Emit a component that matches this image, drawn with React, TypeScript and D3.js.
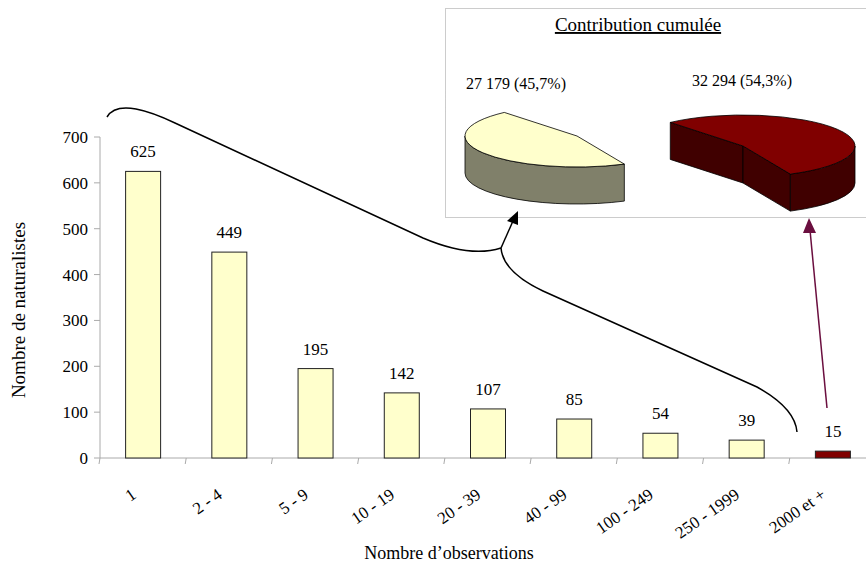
import React from "react";
import * as d3 from "d3";

const categories = ["1", "2 - 4", "5 - 9", "10 - 19", "20 - 39", "40 - 99", "100 - 249", "250 - 1999", "2000 et +"];
const naturalistes = [625, 449, 195, 142, 107, 85, 54, 39, 15];
const yTicks = [0, 100, 200, 300, 400, 500, 600, 700];
const pieLabels = ["27 179 (45,7%)", "32 294 (54,3%)"];
const pieValues = [27179, 32294];

const W = 866, H = 565;
const FONT = "'Liberation Serif', 'Times New Roman', serif";

export default function App() {
  const x = d3.scaleBand<string>().domain(categories).range([100, 876]).padding(0);
  const y = d3.scaleLinear().domain([0, 700]).range([458, 137]);
  const barW = 35;
  const bw = x.bandwidth();

  // 3D pie
  const pie = d3.pie<number>().sort(null).startAngle((155 * Math.PI) / 180).endAngle((155 * Math.PI) / 180 + 2 * Math.PI);
  const arcs = pie(pieValues);
  const rx = 112, ry = 31, depth = 37;
  const centers = [[577, 136], [743, 146]];
  const topColors = ["#FFFFCC", "#800000"];
  const sideColors = ["#80806A", "#400000"];

  const pt = (cx: number, cy: number, phi: number, dy = 0) => [cx + rx * Math.cos(phi), cy + ry * Math.sin(phi) + dy];

  const slices = arcs.map((a, i) => {
    const [cx, cy] = centers[i];
    const p0 = a.startAngle - Math.PI / 2;
    const p1 = a.endAngle - Math.PI / 2;
    const large = p1 - p0 > Math.PI ? 1 : 0;
    const s = pt(cx, cy, p0), e = pt(cx, cy, p1);
    const top = `M${cx},${cy}L${s[0]},${s[1]}A${rx},${ry} 0 ${large} 1 ${e[0]},${e[1]}Z`;
    const faces: string[] = [];
    if (Math.cos(p0) < 0) {
      faces.push(`M${cx},${cy}L${s[0]},${s[1]}L${s[0]},${s[1] + depth}L${cx},${cy + depth}Z`);
    }
    if (Math.cos(p1) > 0) {
      faces.push(`M${cx},${cy}L${e[0]},${e[1]}L${e[0]},${e[1] + depth}L${cx},${cy + depth}Z`);
    }
    for (let k = -1; k <= 2; k++) {
      const lo = Math.max(p0, 2 * k * Math.PI);
      const hi = Math.min(p1, 2 * k * Math.PI + Math.PI);
      if (hi > lo) {
        const a0 = pt(cx, cy, lo), a1 = pt(cx, cy, hi);
        const l = hi - lo > Math.PI ? 1 : 0;
        faces.push(
          `M${a0[0]},${a0[1]}A${rx},${ry} 0 ${l} 1 ${a1[0]},${a1[1]}L${a1[0]},${a1[1] + depth}A${rx},${ry} 0 ${l} 0 ${a0[0]},${a0[1] + depth}Z`
        );
      }
    }
    return { top, faces, i };
  });

  const brace = d3.path();
  brace.moveTo(107, 117);
  brace.quadraticCurveTo(114, 105, 136, 109);
  brace.quadraticCurveTo(152, 112, 175, 123);
  brace.lineTo(423, 238);
  brace.quadraticCurveTo(470, 258, 501, 248);
  brace.moveTo(501, 248);
  brace.quadraticCurveTo(503, 272, 543, 291);
  brace.lineTo(757, 387);
  brace.quadraticCurveTo(795, 408, 797, 432);

  return (
    <svg width={W} height={H} style={{ display: "block", position: "absolute", left: 0, top: 0 }} fontFamily={FONT}>
      <rect width={W} height={H} fill="#fff" />
      <rect x={445.5} y={8.5} width={440} height={209} fill="none" stroke="#999" strokeDasharray="1,1" />
      <text x={638} y={31} fontSize={19} textAnchor="middle" style={{ textDecoration: "underline" }}>
        Contribution cumulée
      </text>
      <text x={466} y={89} fontSize={16}>{pieLabels[0]}</text>
      <text x={692} y={86} fontSize={16}>{pieLabels[1]}</text>
      {slices.map((s) => (
        <g key={s.i}>
          {s.faces.map((f, j) => (
            <path key={j} d={f} fill={sideColors[s.i]} stroke="#000" strokeWidth={0.8} strokeLinejoin="round" />
          ))}
          <path d={s.top} fill={topColors[s.i]} stroke="#000" strokeWidth={0.8} strokeLinejoin="round" />
        </g>
      ))}

      <line x1={100} x2={100} y1={y(700)} y2={y(0)} stroke="#aaa" />
      <line x1={100} x2={876} y1={y(0)} y2={y(0)} stroke="#aaa" />
      {yTicks.map((t) => (
        <g key={t}>
          <line x1={94} x2={100} y1={y(t)} y2={y(t)} stroke="#aaa" />
          <text x={88} y={y(t) + 6} fontSize={17} textAnchor="end">{t}</text>
        </g>
      ))}
      {categories.map((c) => (
        <line key={c} x1={x(c)!} x2={x(c)! - 1} y1={y(0)} y2={y(0) + 6} stroke="#aaa" />
      ))}

      {categories.map((c, i) => {
        const cx = x(c)! + bw / 2;
        return (
          <g key={c}>
            <rect
              x={cx - barW / 2}
              y={y(naturalistes[i])}
              width={barW}
              height={y(0) - y(naturalistes[i])}
              fill={i === categories.length - 1 ? "#800000" : "#FFFFCC"}
              stroke="#222"
              strokeWidth={1}
            />
            <text x={cx} y={y(naturalistes[i]) - 14} fontSize={17} textAnchor="middle">{naturalistes[i]}</text>
            <text transform={`translate(${cx - 6},${497}) rotate(-35)`} fontSize={17} textAnchor="end">
              {c}
            </text>
          </g>
        );
      })}

      <text x={449} y={559} fontSize={18} textAnchor="middle">Nombre d’observations</text>
      <text transform={`translate(25,310) rotate(-90)`} fontSize={19} textAnchor="middle">Nombre de naturalistes</text>

      <path d={brace.toString()} fill="none" stroke="#000" strokeWidth={1.5} />
      <line x1={501} y1={248} x2={513} y2={221} stroke="#000" strokeWidth={1.5} />
      <polygon points="518,211 507,221 518,225" fill="#000" />
      <line x1={827} y1={408} x2={810} y2={230} stroke="#6b0f3f" strokeWidth={1.5} />
      <polygon points="809,218 803,233 816,233" fill="#6b0f3f" />
    </svg>
  );
}
